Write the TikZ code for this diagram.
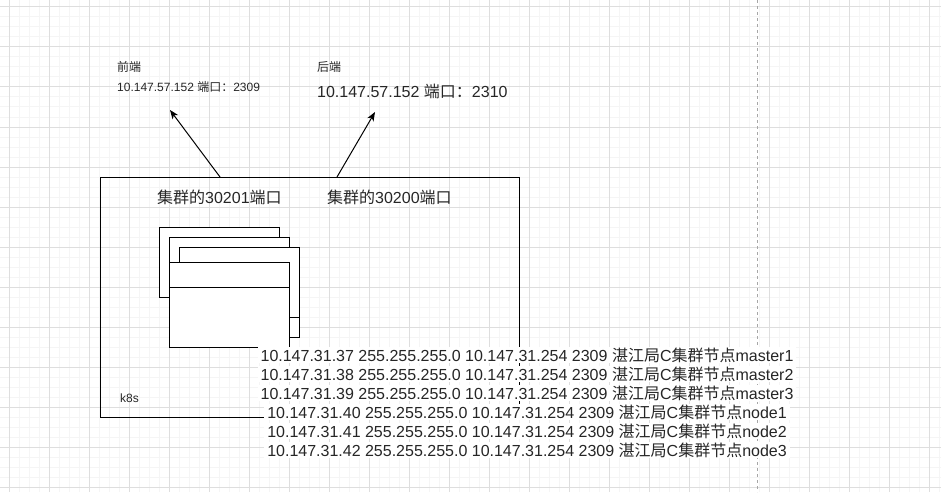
\documentclass[tikz,border=0pt]{standalone}
\usepackage{fontspec}
\setmainfont{Liberation Sans}
\newfontfamily\cjk{Noto Sans CJK SC}
\usetikzlibrary{arrows.meta}
\newcommand{\zh}[1]{{\cjk #1}}

\begin{document}
\begin{tikzpicture}[x=1pt,y=-1pt,>={Stealth[length=9pt,width=7pt,inset=2.5pt]},
  small/.style={font=\fontsize{12}{14}\selectfont,text=black!85,inner sep=0pt,anchor=base west},
  big/.style={font=\fontsize{16}{19}\selectfont,text=black!85,inner sep=0pt,anchor=base west},
  iprow/.style={font=\fontsize{16}{19}\selectfont,text=black!85,fill=white,
                inner xsep=3pt,inner ysep=0.5pt,anchor=base},
  card/.style={draw=black,fill=white,line width=1pt}]
  \useasboundingbox (0,0) rectangle (941,492);

  % ---- drawing grid and page break ---------------------------------------
  \foreach \gx in {9,19,...,939} \draw[black!4,line width=1pt] (\gx,0) -- (\gx,492);
  \foreach \gy in {7,17,...,487} \draw[black!4,line width=1pt] (0,\gy) -- (941,\gy);
  \foreach \gx in {9,49,...,929} \draw[black!13,line width=1pt] (\gx,0) -- (\gx,492);
  \foreach \gy in {7,47,...,487} \draw[black!13,line width=1pt] (0,\gy) -- (941,\gy);
  \draw[black!35,line width=1pt,dash pattern=on 3pt off 3pt] (757,0) -- (757,492);

  % ---- k8s box ------------------------------------------------------------
  \draw[line width=1pt] (100,177) rectangle (519,417);

  % ---- stacked cards ------------------------------------------------------
  \draw[card] (159,227) rectangle (279,297);
  \draw[card] (169,237) rectangle (289,317);
  \draw[card] (179,247) rectangle (299,337);
  \draw[line width=1pt] (289,317) -- (299,317);
  \draw[card] (169,262) rectangle (289,347);
  \draw[line width=1pt] (169,287) -- (289,287);

  % ---- labels -------------------------------------------------------------
  \node[small] (frontlbl) at (117,72) {\zh{前端}};
  \node[small] (frontip)  at (117,92) {10.147.57.152 \zh{端口：}2309};
  \node[small] (backlbl)  at (317,72) {\zh{后端}};
  \node[big]   (backip)   at (317,98) {10.147.57.152 \zh{端口：}2310};
  \node[big]   (port1)    at (157,203) {\zh{集群的}30201\zh{端口}};
  \node[big]   (port2)    at (327,203) {\zh{集群的}30200\zh{端口}};
  \node[small] (k8slbl)   at (120,402) {k8s};

  % ---- arrows out of the cluster ------------------------------------------
  \coordinate (frontfoot) at (220,177); \coordinate (fronttip) at (170,110);
  \coordinate (backfoot)  at (337,177); \coordinate (backtip)  at (375,112);
  \draw[->,line width=1pt] (frontfoot) -- (fronttip);
  \draw[->,line width=1pt] (backfoot) -- (backtip);

  % ---- node table ---------------------------------------------------------
  \foreach \ip/\host [count=\i] in {37/master1,38/master2,39/master3,40/node1,41/node2,42/node3}
    \node[iprow] (row\i) at (527,{342+19*\i})
      {10.147.31.\ip{} 255.255.255.0 10.147.31.254 2309 \zh{湛江局}C\zh{集群节点}\host};
\end{tikzpicture}
\end{document}
